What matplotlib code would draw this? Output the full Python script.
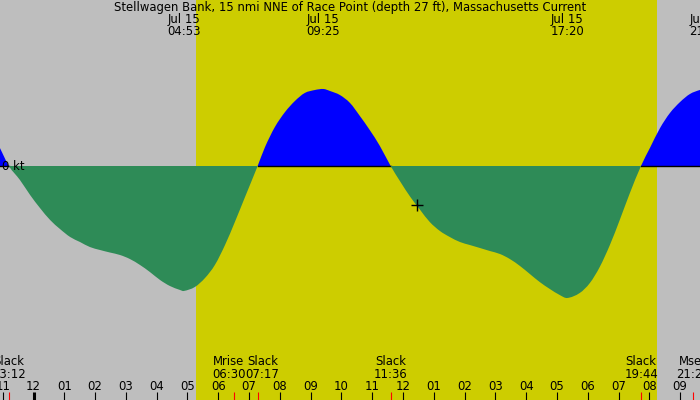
import numpy as np
import matplotlib
matplotlib.use("Agg")
import matplotlib.pyplot as plt
import matplotlib.transforms as mtransforms
from matplotlib.path import Path
from matplotlib.patches import PathPatch, Rectangle

title = "Stellwagen Bank, 15 nmi NNE of Race Point (depth 27 ft), Massachusetts Current"

# tidal current: hours after midnight Jul 15, speed in knots (+ flood, - ebb)
curve_hours = [-1.09, -0.80, -0.44, -0.11, 0.21, 0.54, 0.86, 1.19, 1.51, 1.83,
               2.16, 2.48, 2.81, 3.13, 3.46, 3.78, 4.11, 4.43, 4.76, 4.88,
               5.24, 5.57, 5.89, 6.22, 6.54, 6.87, 7.28, 7.52, 7.84,
               8.17, 8.49, 8.81, 9.14, 9.42, 9.63, 9.95, 10.28, 10.60, 10.92,
               11.25, 11.60, 11.92, 12.24, 12.56, 12.87, 13.20, 13.52, 13.85,
               14.17, 14.50, 14.82, 15.15, 15.47, 15.80, 16.12, 16.44, 16.77, 17.09,
               17.33, 17.74, 18.07, 18.39, 18.72, 19.04, 19.37, 19.73,
               20.02, 20.35, 20.67, 21.00, 21.32, 21.64, 21.83]
curve_knots = [0.18, 0.00, -0.14, -0.29, -0.42, -0.54, -0.63, -0.71, -0.76, -0.81,
               -0.84, -0.865, -0.89, -0.93, -0.99, -1.06, -1.14, -1.20, -1.24, -1.25,
               -1.21, -1.12, -0.99, -0.79, -0.56, -0.31, 0.00, 0.19, 0.39,
               0.54, 0.65, 0.73, 0.76, 0.77, 0.75, 0.71, 0.63, 0.50, 0.36,
               0.20, 0.00, -0.16, -0.31, -0.44, -0.56, -0.65, -0.71, -0.76,
               -0.79, -0.82, -0.85, -0.88, -0.93, -1.00, -1.08, -1.16, -1.23, -1.29,
               -1.32, -1.27, -1.17, -1.01, -0.79, -0.54, -0.27, 0.00,
               0.18, 0.38, 0.53, 0.64, 0.72, 0.76, 0.77]

# maximum flood / ebb labels along the top
extreme_dates = ["Jul 15", "Jul 15", "Jul 15", "Jul 15"]
extreme_times = ["04:53", "09:25", "17:20", "21:50"]

# slack water and moon events along the bottom
event_names = ["Slack", "Mrise", "Slack", "Slack", "Slack", "Mset"]
event_times = ["23:12", "06:30", "07:17", "11:36", "19:44", "21:25"]
event_days = [-1, 0, 0, 0, 0, 0]

sunrise = "05:17"
sunset = "20:15"

now_hour = 12.45
now_knots = -0.39

hour_ticks = list(range(-1, 22))
hour_labels = [f"{(h - 1) % 12 + 1:02d}" for h in hour_ticks]


def to_hours(s, day=0):
    hh, mm = s.split(":")
    return day * 24 + int(hh) + int(mm) / 60.0


GRAY = "#bebebe"
YELLOW = "#cdcd00"
BLUE = "#0000ff"
GREEN = "#2e8b57"
FS = 8.4

W, H = 700, 400
px_per_hr = 30.79
x_left = -33.5 / px_per_hr
x_right = (W - 33.5) / px_per_hr
px_per_kt = 100.0
y_top = 166.0 / px_per_kt
y_bot = -(H - 166.0) / px_per_kt

fig = plt.figure(figsize=(7, 4), dpi=100)
ax = fig.add_axes([0, 0, 1, 1])
ax.set_xlim(x_left, x_right)
ax.set_ylim(y_bot, y_top)
ax.set_facecolor(GRAY)
for s in ax.spines.values():
    s.set_visible(False)
ax.set_xticks([])
ax.set_yticks([])

ax.axvspan(to_hours(sunrise), to_hours(sunset), color=YELLOW, lw=0, zorder=1)

# smooth curve through the read points (cubic Hermite drawn as Bezier path)
h = np.array(curve_hours)
v = np.array(curve_knots)
n = len(h)
m = np.empty(n)
m[1:-1] = (v[2:] - v[:-2]) / (h[2:] - h[:-2])
m[0] = (v[1] - v[0]) / (h[1] - h[0])
m[-1] = (v[-1] - v[-2]) / (h[-1] - h[-2])
verts = [(h[0], v[0])]
codes = [Path.MOVETO]
for i in range(n - 1):
    dx = h[i + 1] - h[i]
    verts += [(h[i] + dx / 3, v[i] + m[i] * dx / 3),
              (h[i + 1] - dx / 3, v[i + 1] - m[i + 1] * dx / 3),
              (h[i + 1], v[i + 1])]
    codes += [Path.CURVE4] * 3
verts += [(h[-1], 0.0), (h[0], 0.0), (h[0], v[0])]
codes += [Path.LINETO, Path.LINETO, Path.CLOSEPOLY]
area = Path(verts, codes)

blue = PathPatch(area, facecolor=BLUE, edgecolor="none", zorder=2)
ax.add_patch(blue)
blue.set_clip_path(Rectangle((h[0], 0), h[-1] - h[0], 10, transform=ax.transData))
ax.plot(h, np.where(v >= 0, 0.0, np.nan), color="black", lw=1.0, zorder=3)
green = PathPatch(area, facecolor=GREEN, edgecolor="none", zorder=4)
ax.add_patch(green)
green.set_clip_path(Rectangle((h[0], -10), h[-1] - h[0], 10, transform=ax.transData))

ax.plot([now_hour], [now_knots], marker="+", color="black", ms=9, mew=1.0, zorder=6)

trans = mtransforms.blended_transform_factory(ax.transData, ax.transAxes)


def yfrac(py):
    return 1 - py / H


ax.text(0.5, yfrac(7.5), title, transform=ax.transAxes, ha="center", va="center",
        fontsize=FS, color="black", zorder=7)
ax.text(x_left + 2.5 / px_per_hr, 0, "0 kt", ha="left", va="center",
        fontsize=FS, color="black", zorder=7)

for d, t in zip(extreme_dates, extreme_times):
    xh = to_hours(t)
    ax.text(xh, yfrac(19), d, transform=trans, ha="center", va="center", fontsize=FS, zorder=7)
    ax.text(xh, yfrac(31.5), t, transform=trans, ha="center", va="center", fontsize=FS, zorder=7)

# hour ticks and labels
for hh, lab in zip(hour_ticks, hour_labels):
    lw = 2.2 if hh % 24 == 0 else 0.8
    ax.plot([hh, hh], [0, 8 / H], transform=trans, color="black", lw=lw,
            solid_capstyle="butt", zorder=7)
    ax.text(hh, yfrac(386), lab, transform=trans, ha="center", va="center",
            fontsize=FS, zorder=7)

# event labels with simple collision avoidance
ev_x = [to_hours(t, d) for t, d in zip(event_times, event_days)]
lab_x = list(ev_x)
min_sep = 33.6 / px_per_hr
for i in range(1, len(lab_x)):
    gap = lab_x[i] - lab_x[i - 1]
    if gap < min_sep:
        shift = (min_sep - gap) / 2
        lab_x[i - 1] -= shift
        lab_x[i] += shift
for xe, xl, name, t in zip(ev_x, lab_x, event_names, event_times):
    ax.plot([xe, xe], [0, 8 / H], transform=trans, color="red", lw=0.8,
            solid_capstyle="butt", zorder=8)
    ax.text(xl, yfrac(361.5), name, transform=trans, ha="center", va="center",
            fontsize=FS, zorder=7)
    ax.text(xl, yfrac(375), t, transform=trans, ha="center", va="center",
            fontsize=FS, zorder=7)

fig.savefig("out.png", dpi=100, facecolor=GRAY)
